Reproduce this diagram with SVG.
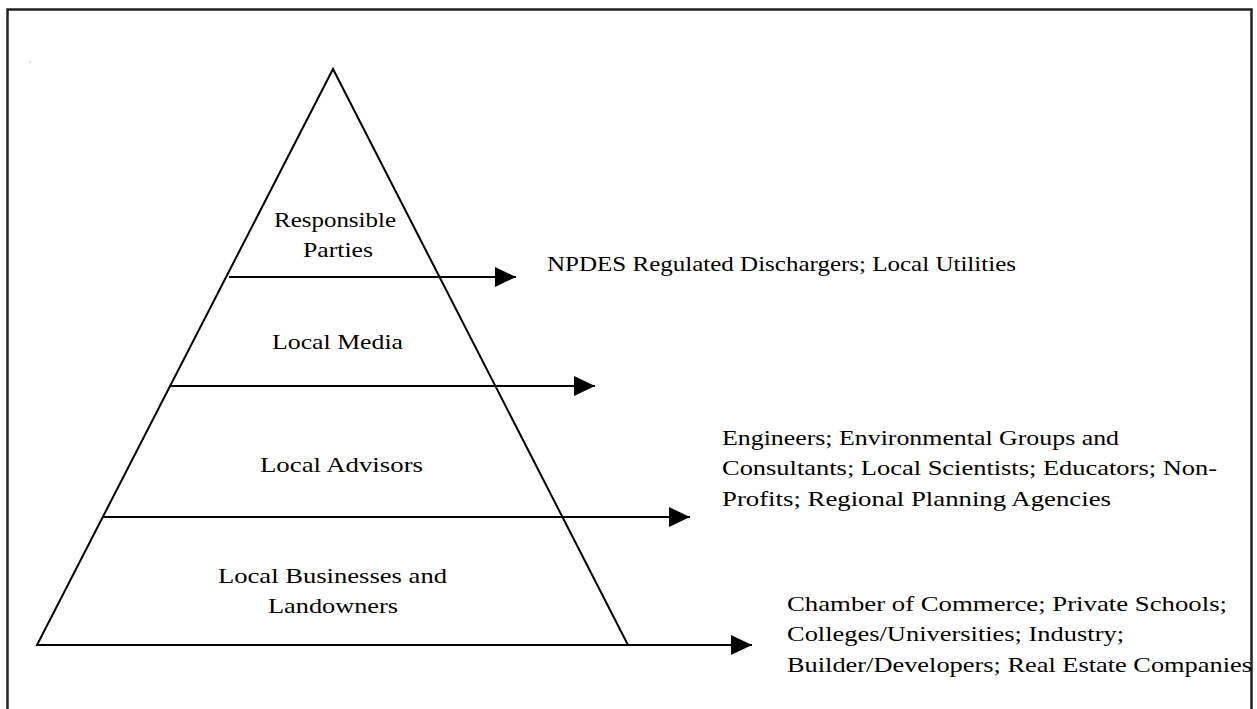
<svg xmlns="http://www.w3.org/2000/svg" width="1257" height="709" viewBox="0 0 1257 709">
<style>
.t{font-family:"Liberation Serif","Times New Roman",serif;font-size:22px;fill:#000}
.c{text-anchor:middle}
.ln{stroke:#000;stroke-width:2;fill:none}
.side{stroke:#000;stroke-width:2;fill:none;stroke-linejoin:miter}
</style>
<defs>
<marker id="ah" markerUnits="userSpaceOnUse" markerWidth="22" markerHeight="22" refX="21" refY="10" orient="auto">
<path d="M0,0 L21,10 L0,20 Z" fill="#000"/>
</marker>
</defs>
<rect width="1257" height="709" fill="#fff"/>
<rect x="7.5" y="9.5" width="1244" height="720" fill="none" stroke="#222" stroke-width="2.5"/>
<rect x="29.5" y="61.5" width="1" height="1" fill="#888"/>
<g id="pyramid">
<polygon class="side" points="333,69 37,645 628,645"/>
</g>
<g id="connectors">
<line class="ln" x1="229" y1="277" x2="516" y2="277" marker-end="url(#ah)"/>
<line class="ln" x1="171" y1="386" x2="595" y2="386" marker-end="url(#ah)"/>
<line class="ln" x1="103" y1="517" x2="690" y2="517" marker-end="url(#ah)"/>
<line class="ln" x1="628" y1="645" x2="752" y2="645" marker-end="url(#ah)"/>
</g>
<g id="tier-responsible">
<text class="t" x="274" y="227" textLength="122" lengthAdjust="spacingAndGlyphs">Responsible</text>
<text class="t" x="303" y="257" textLength="70" lengthAdjust="spacingAndGlyphs">Parties</text>
</g>
<g id="tier-media">
<text class="t" x="272" y="349" textLength="131" lengthAdjust="spacingAndGlyphs">Local Media</text>
</g>
<g id="tier-advisors">
<text class="t" x="260" y="472" textLength="163" lengthAdjust="spacingAndGlyphs">Local Advisors</text>
</g>
<g id="tier-businesses">
<text class="t" x="218" y="583" textLength="229" lengthAdjust="spacingAndGlyphs">Local Businesses and</text>
<text class="t" x="268" y="613" textLength="130" lengthAdjust="spacingAndGlyphs">Landowners</text>
</g>
<g id="label-responsible">
<text class="t" x="547" y="271" textLength="469" lengthAdjust="spacingAndGlyphs">NPDES Regulated Dischargers; Local Utilities</text>
</g>
<g id="label-advisors">
<text class="t" x="722" y="445" textLength="397" lengthAdjust="spacingAndGlyphs">Engineers; Environmental Groups and</text>
<text class="t" x="722" y="475" textLength="495" lengthAdjust="spacingAndGlyphs">Consultants; Local Scientists; Educators; Non-</text>
<text class="t" x="722" y="506" textLength="389" lengthAdjust="spacingAndGlyphs">Profits; Regional Planning Agencies</text>
</g>
<g id="label-businesses">
<text class="t" x="787" y="611" textLength="440" lengthAdjust="spacingAndGlyphs">Chamber of Commerce; Private Schools;</text>
<text class="t" x="787" y="641" textLength="337" lengthAdjust="spacingAndGlyphs">Colleges/Universities; Industry;</text>
<text class="t" x="787" y="672" textLength="465" lengthAdjust="spacingAndGlyphs">Builder/Developers; Real Estate Companies</text>
</g>
</svg>
